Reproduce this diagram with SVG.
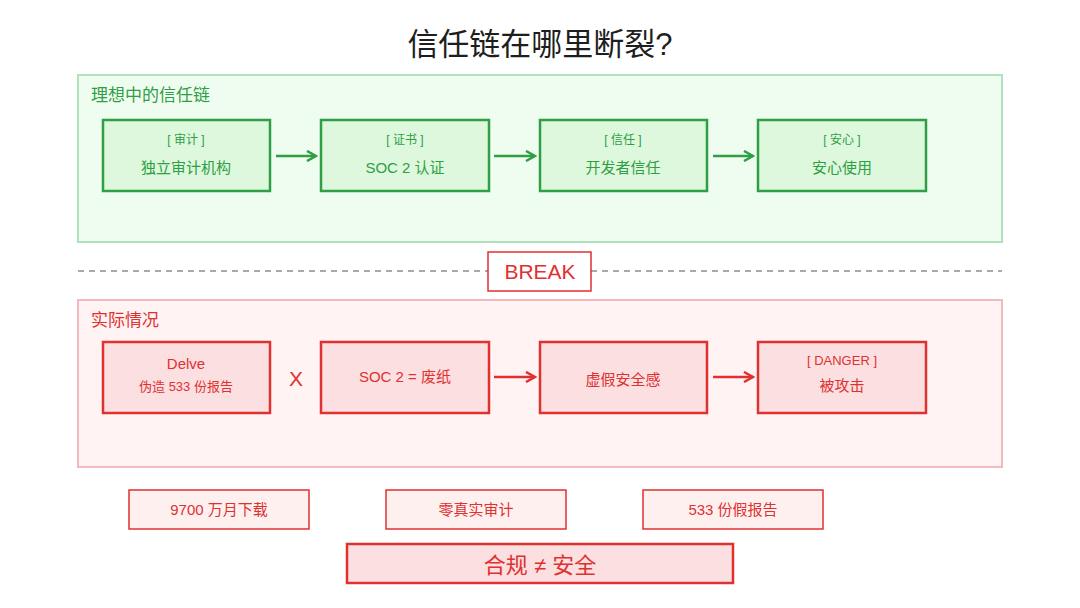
<svg xmlns="http://www.w3.org/2000/svg" width="1080" height="608" viewBox="0 0 1080 608">
<style>
text{font-family:"Liberation Sans","Noto Sans CJK SC",sans-serif;text-anchor:middle}
.gn rect{fill:#ddf8dd;stroke:#2f9e44;stroke-width:2.5}
.rn rect{fill:#fcdfe0;stroke:#e03131;stroke-width:2.5}
.gt{fill:#2f9e44;font-size:15px}
.gs{fill:#2f9e44;font-size:12px}
.rt{fill:#e03131;font-size:15px}
.rs{fill:#e03131;font-size:13px}
.st rect{fill:#fff0f0;stroke:#e03131;stroke-width:1.5}
</style>
<defs>
<marker id="ag" markerWidth="12" markerHeight="12" refX="10" refY="6" orient="auto" markerUnits="userSpaceOnUse"><path d="M1,1 L10,6 L1,11" fill="none" stroke="#2f9e44" stroke-width="2.5"/></marker>
<marker id="ar" markerWidth="12" markerHeight="12" refX="10" refY="6" orient="auto" markerUnits="userSpaceOnUse"><path d="M1,1 L10,6 L1,11" fill="none" stroke="#e03131" stroke-width="2.5"/></marker>
</defs>
<rect width="1080" height="608" fill="#fff"/>
<text x="540" y="55" style="font-size:31px;fill:#1e1e1e">信任链在哪里断裂?</text>
<g id="ideal"><rect x="78" y="75" width="924" height="167" fill="#effdf0" stroke="#b2e2bd" stroke-width="2"/>
<text x="91" y="101" class="gt" style="text-anchor:start;font-size:17px">理想中的信任链</text></g>
<g id="real"><rect x="78" y="300" width="924" height="167" fill="#fff3f3" stroke="#f5b8bb" stroke-width="2"/>
<text x="91" y="326" class="rt" style="text-anchor:start;font-size:17px">实际情况</text></g>
<g id="n1" class="gn"><rect x="103" y="120" width="167" height="71"/><text x="186" y="144" class="gs">[ 审计 ]</text><text x="186" y="173" class="gt">独立审计机构</text></g>
<g id="n2" class="gn"><rect x="321" y="120" width="168" height="71"/><text x="405" y="144" class="gs">[ 证书 ]</text><text x="405" y="173" class="gt">SOC 2 认证</text></g>
<g id="n3" class="gn"><rect x="540" y="120" width="167" height="71"/><text x="623" y="144" class="gs">[ 信任 ]</text><text x="623" y="173" class="gt">开发者信任</text></g>
<g id="n4" class="gn"><rect x="758" y="120" width="168" height="71"/><text x="842" y="144" class="gs">[ 安心 ]</text><text x="842" y="173" class="gt">安心使用</text></g>
<g id="break"><line x1="78" y1="271" x2="488" y2="271" stroke="#868e96" stroke-width="1.5" stroke-dasharray="6 5"/><line x1="591" y1="271" x2="1002" y2="271" stroke="#868e96" stroke-width="1.5" stroke-dasharray="6 5"/>
<rect x="488" y="252" width="103" height="39" fill="#fff" stroke="#e03131" stroke-width="1.5"/><text x="540" y="279" style="font-size:21px;fill:#e03131">BREAK</text></g>
<g id="r1" class="rn"><rect x="103" y="342" width="167" height="71"/><text x="186" y="369" class="rt">Delve</text><text x="186" y="391" class="rs">伪造 533 份报告</text></g>
<g id="r2" class="rn"><rect x="321" y="342" width="168" height="71"/><text x="405" y="382" class="rt">SOC 2 = 废纸</text></g>
<g id="r3" class="rn"><rect x="540" y="342" width="167" height="71"/><text x="623" y="385" class="rt">虚假安全感</text></g>
<g id="r4" class="rn"><rect x="758" y="342" width="168" height="71"/><text x="842" y="365" class="rs">[ DANGER ]</text><text x="842" y="391" class="rt">被攻击</text></g>
<text x="296" y="386" style="font-size:21px;fill:#e03131">X</text>
<g id="s1" class="st"><rect x="129" y="490" width="180" height="39"/><text x="219" y="515" class="rt">9700 万月下载</text></g>
<g id="s2" class="st"><rect x="386" y="490" width="180" height="39"/><text x="476" y="515" class="rt">零真实审计</text></g>
<g id="s3" class="st"><rect x="643" y="490" width="180" height="39"/><text x="733" y="515" class="rt">533 份假报告</text></g>
<g id="final"><rect x="347" y="544" width="386" height="39" fill="#fcdfe0" stroke="#e03131" stroke-width="2.5"/><text x="540" y="573" style="font-size:22px;fill:#e03131">合规 ≠ 安全</text></g>
<g id="connectors" stroke-width="2.5" fill="none">
<line x1="276" y1="156" x2="316" y2="156" stroke="#2f9e44" marker-end="url(#ag)"/>
<line x1="494" y1="156" x2="535" y2="156" stroke="#2f9e44" marker-end="url(#ag)"/>
<line x1="713" y1="156" x2="753" y2="156" stroke="#2f9e44" marker-end="url(#ag)"/>
<line x1="494" y1="377" x2="535" y2="377" stroke="#e03131" marker-end="url(#ar)"/>
<line x1="713" y1="377" x2="753" y2="377" stroke="#e03131" marker-end="url(#ar)"/>
</g>
</svg>
